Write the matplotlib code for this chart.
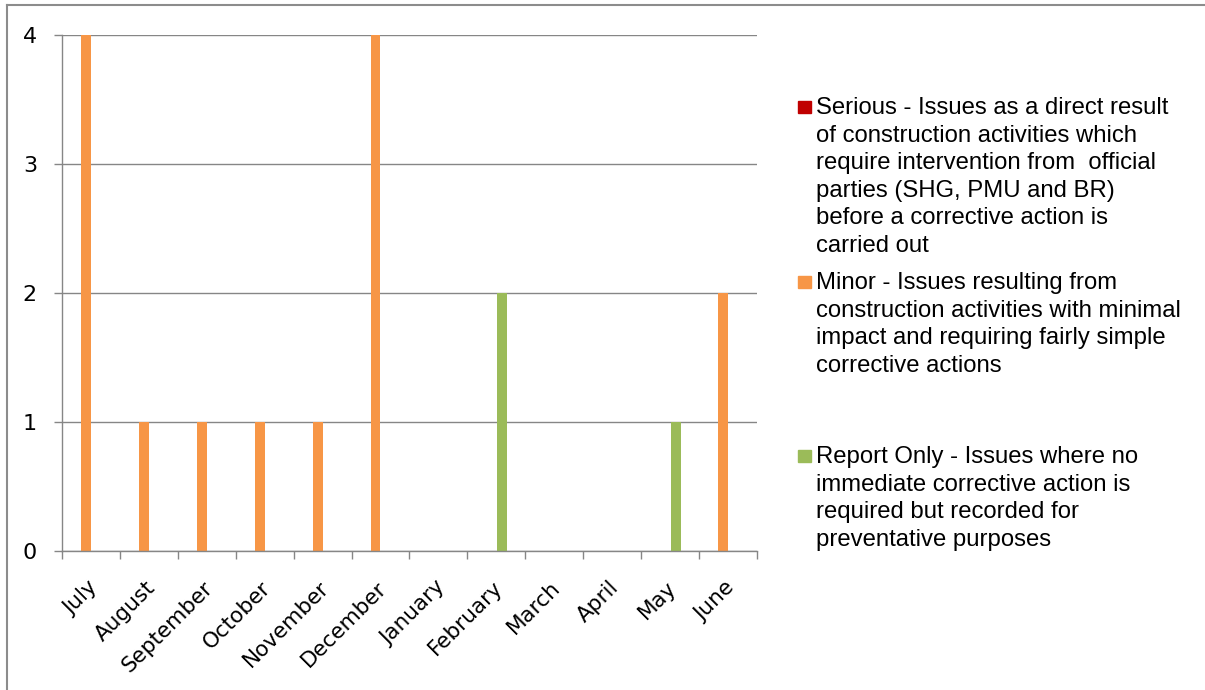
import matplotlib.pyplot as plt
import matplotlib.transforms as mtransforms
from matplotlib.lines import Line2D
from matplotlib.patches import Rectangle
import numpy as np

months = ["July", "August", "September", "October", "November", "December",
          "January", "February", "March", "April", "May", "June"]
serious = [0, 0, 0, 0, 0, 0, 0, 0, 0, 0, 0, 0]
minor = [4, 1, 1, 1, 1, 4, 0, 0, 0, 0, 0, 2]
report_only = [0, 0, 0, 0, 0, 0, 0, 2, 0, 0, 1, 0]

legend_labels = [
    "Serious - Issues as a direct result\nof construction activities which\n"
    "require intervention from  official\nparties (SHG, PMU and BR)\n"
    "before a corrective action is\ncarried out",
    "Minor - Issues resulting from\nconstruction activities with minimal\n"
    "impact and requiring fairly simple\ncorrective actions",
    "Report Only - Issues where no\nimmediate corrective action is\n"
    "required but recorded for\npreventative purposes",
]
colors = ["#C00000", "#F79646", "#9BBB59"]
grey = "#868686"

W, H = 1205, 690
fig = plt.figure(figsize=(W / 100, H / 100), dpi=100)
ax = fig.add_axes([62 / W, 1 - 551 / H, 695 / W, 516 / H])

x = np.arange(len(months))
bw = 0.17
ax.bar(x - 0.26, serious, bw, color=colors[0])
ax.bar(x - 0.087, minor, bw, color=colors[1])
ax.bar(x + 0.095, report_only, bw, color=colors[2])

ax.set_xlim(-0.5, len(months) - 0.5)
ax.set_ylim(0, 4)
ax.set_yticks(range(5))
ax.yaxis.grid(True, color=grey, linewidth=1.0)
ax.set_axisbelow(True)

# tick marks sit on category boundaries, labels in the middle
ax.set_xticks(np.arange(-0.5, len(months), 1.0))
ax.set_xticklabels([])
ax.set_xticks(x, minor=True)
ax.set_xticklabels(months, minor=True, rotation=45, ha="right",
                   rotation_mode="anchor", fontsize=15.5)
ax.tick_params(axis="x", which="major", length=6, color=grey, width=1.0,
               direction="out")
ax.tick_params(axis="x", which="minor", length=0, pad=19)
ax.tick_params(axis="y", length=6, color=grey, width=1.0, labelsize=16, pad=12)

# nudge month labels a little to the left
shift = mtransforms.ScaledTranslation(-4 / 100, 0, fig.dpi_scale_trans)
for lbl in ax.get_xticklabels(minor=True):
    lbl.set_transform(lbl.get_transform() + shift)

for side in ["top", "right"]:
    ax.spines[side].set_visible(False)
for side in ["left", "bottom"]:
    ax.spines[side].set_color(grey)
    ax.spines[side].set_linewidth(1.0)

# legend drawn by hand so the long entries wrap like the original
entry_tops = [97, 272, 446]
for label, color, top in zip(legend_labels, colors, entry_tops):
    fig.patches.append(Rectangle((798 / W, 1 - (top + 16) / H), 12.5 / W, 12.5 / H,
                                 transform=fig.transFigure, color=color))
    fig.text(816 / W, 1 - top / H, label, fontsize=17.2,
             family="Liberation Sans", va="top", ha="left", linespacing=1.33)

# outer chart frame
fig.lines.append(Line2D([7 / W, 7 / W], [0, 1 - 5 / H], transform=fig.transFigure,
                        color="#8c8c8c", linewidth=1.5))
fig.lines.append(Line2D([7 / W, 1], [1 - 5 / H, 1 - 5 / H], transform=fig.transFigure,
                        color="#8c8c8c", linewidth=1.5))

fig.savefig("out.png", dpi=100)
